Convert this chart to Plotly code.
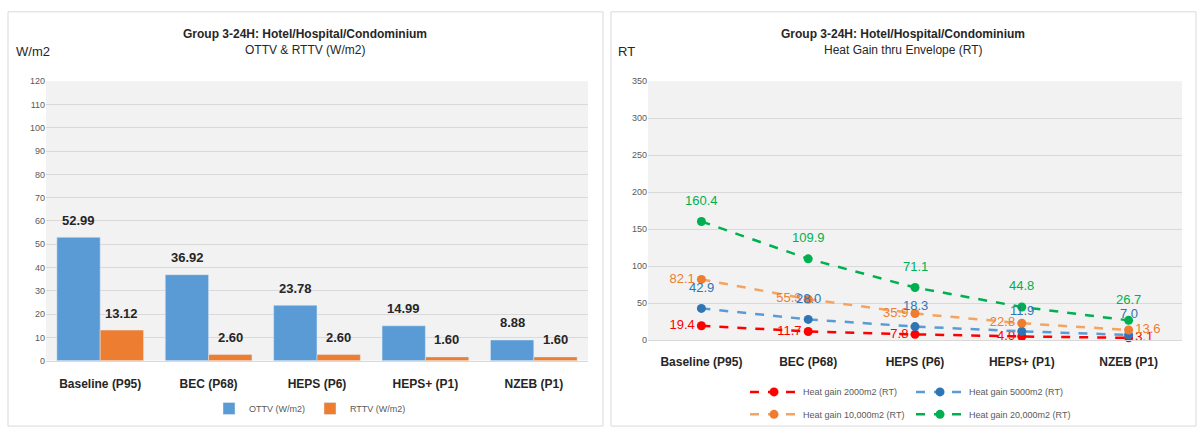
import plotly.graph_objects as go

categories = ["Baseline (P95)", "BEC (P68)", "HEPS (P6)", "HEPS+ (P1)", "NZEB (P1)"]
ottv = [52.99, 36.92, 23.78, 14.99, 8.88]
rttv = [13.12, 2.60, 2.60, 1.60, 1.60]

heat_2000 = [19.4, 11.7, 7.8, 4.9, 3.1]
heat_5000 = [42.9, 28.0, 18.3, 11.9, 7.0]
heat_10000 = [82.1, 55.3, 35.9, 22.8, 13.6]
heat_20000 = [160.4, 109.9, 71.1, 44.8, 26.7]

W, H = 1202, 435
FONT = "Liberation Sans"
TICK_C = "#595959"
GRID_C = "#d9d9d9"


def px(x):
    return x / W


def py(y):
    return 1 - y / H


fig = go.Figure()

# Left: bars
fig.add_trace(go.Bar(x=categories, y=ottv, name="OTTV (W/m2)", marker_color="#5b9bd5",
                     xaxis="x", yaxis="y", legend="legend"))
fig.add_trace(go.Bar(x=categories, y=rttv, name="RTTV (W/m2)", marker_color="#ed7d31",
                     xaxis="x", yaxis="y", legend="legend"))

annotations = []
for i, c in enumerate(categories):
    annotations.append(dict(x=c, y=ottv[i], xref="x", yref="y", text=f"<b>{ottv[i]:.2f}</b>",
                            showarrow=False, xshift=-21.5, yshift=17,
                            font=dict(size=13, color="#262626", family=FONT)))
    annotations.append(dict(x=c, y=rttv[i], xref="x", yref="y", text=f"<b>{rttv[i]:.2f}</b>",
                            showarrow=False, xshift=21.5, yshift=17,
                            font=dict(size=13, color="#262626", family=FONT)))

# Right: lines
side_pos = ["middle left"] * 4 + ["middle right"]
series = [
    ("Heat gain 2000m2 (RT)", heat_2000, "#ff0000", "#ff0000", "#ff0000", "side", "legend2"),
    ("Heat gain 5000m2 (RT)", heat_5000, "#5b9bd5", "#2e75b6", "#2e75b6", "top", "legend2"),
    ("Heat gain 10,000m2 (RT)", heat_10000, "#f4a460", "#ed7d31", "#ed7d31", "side", "legend3"),
    ("Heat gain 20,000m2 (RT)", heat_20000, "#00b050", "#00b050", "#00b050", "top", "legend3"),
]
for name, vals, lc, mc, tc, where, lg in series:
    if where == "side":
        fig.add_trace(go.Scatter(
            x=categories, y=vals, name=name, mode="lines+markers+text",
            line=dict(color=lc, width=2.5, dash="dash"),
            marker=dict(color=mc, size=9),
            text=[f"{v:.1f}" for v in vals], textposition=side_pos,
            textfont=dict(size=13, color=tc, family=FONT),
            xaxis="x2", yaxis="y2", legend=lg, cliponaxis=False,
        ))
    else:
        fig.add_trace(go.Scatter(
            x=categories, y=vals, name=name, mode="lines+markers",
            line=dict(color=lc, width=2.5, dash="dash"),
            marker=dict(color=mc, size=9),
            xaxis="x2", yaxis="y2", legend=lg, cliponaxis=False,
        ))
        for c, v in zip(categories, vals):
            annotations.append(dict(x=c, y=v, xref="x2", yref="y2", text=f"{v:.1f}",
                                    showarrow=False, yshift=21,
                                    font=dict(size=13, color=tc, family=FONT)))

# Titles
for cx, sub in [(305, "OTTV & RTTV (W/m2)"), (903, "Heat Gain thru Envelope (RT)")]:
    annotations.append(dict(x=px(cx), y=py(30), xref="paper", yref="paper",
                            text="<b>Group 3-24H: Hotel/Hospital/Condominium</b>", showarrow=False,
                            xanchor="center", yanchor="middle",
                            font=dict(size=12, color="#262626", family=FONT)))
    annotations.append(dict(x=px(cx), y=py(46), xref="paper", yref="paper",
                            text=sub, showarrow=False, xanchor="center", yanchor="middle",
                            font=dict(size=12, color="#262626", family=FONT)))
annotations.append(dict(x=px(14), y=py(48), xref="paper", yref="paper", text="W/m2",
                        showarrow=False, xanchor="left", yanchor="middle",
                        font=dict(size=13, color="#262626", family=FONT)))
annotations.append(dict(x=px(616), y=py(48), xref="paper", yref="paper", text="RT",
                        showarrow=False, xanchor="left", yanchor="middle",
                        font=dict(size=13, color="#262626", family=FONT)))

shapes = [
    dict(type="rect", xref="paper", yref="paper", x0=px(8), x1=px(603), y0=py(431), y1=py(7),
         line=dict(color=GRID_C, width=1), fillcolor="rgba(0,0,0,0)", layer="below"),
    dict(type="rect", xref="paper", yref="paper", x0=px(611), x1=px(1196), y0=py(431), y1=py(7),
         line=dict(color=GRID_C, width=1), fillcolor="rgba(0,0,0,0)", layer="below"),
]

xcommon = dict(type="category", showgrid=False, showline=True, linecolor=GRID_C, linewidth=1,
               ticks="", tickfont=dict(size=12, color="#262626", family=FONT + ", Arial",
                                      weight="bold"),
               range=[-0.5, 4.5], fixedrange=True, zeroline=False)
ycommon = dict(showgrid=True, gridcolor=GRID_C, gridwidth=1, zeroline=False, showline=False,
               ticks="", tickfont=dict(size=9, color=TICK_C, family=FONT), fixedrange=True)

fig.update_layout(
    width=W, height=H,
    margin=dict(l=0, r=0, t=0, b=0),
    paper_bgcolor="white",
    plot_bgcolor="#f2f2f2",
    font=dict(family=FONT, color="#262626"),
    barmode="group", bargap=0.2, bargroupgap=0,
    showlegend=True,
    xaxis=dict(xcommon, domain=[px(46), px(588)], anchor="y", ticklabelstandoff=12),
    yaxis=dict(ycommon, domain=[py(364), py(78)], anchor="x", range=[0, 120], dtick=10),
    xaxis2=dict(xcommon, domain=[px(648), px(1182)], anchor="y2", ticklabelstandoff=10),
    yaxis2=dict(ycommon, domain=[py(343), py(78)], anchor="x2", range=[0, 350], dtick=50),
    legend=dict(orientation="h", x=px(310), xanchor="center", y=py(413), yanchor="middle",
                font=dict(size=9, color=TICK_C, family=FONT), itemwidth=30,
                bgcolor="rgba(0,0,0,0)", traceorder="normal"),
    legend2=dict(orientation="h", x=px(745), xanchor="left", y=py(396), yanchor="middle",
                 font=dict(size=9, color=TICK_C, family=FONT), itemwidth=48, entrywidth=103,
                 bgcolor="rgba(0,0,0,0)", traceorder="normal"),
    legend3=dict(orientation="h", x=px(745), xanchor="left", y=py(419), yanchor="middle",
                 font=dict(size=9, color=TICK_C, family=FONT), itemwidth=48, entrywidth=103,
                 bgcolor="rgba(0,0,0,0)", traceorder="normal"),
    annotations=annotations,
    shapes=shapes,
)

fig.write_html("out.html", config={"displayModeBar": False},
               post_script="document.body.style.margin='0';document.body.style.overflow='hidden';")
